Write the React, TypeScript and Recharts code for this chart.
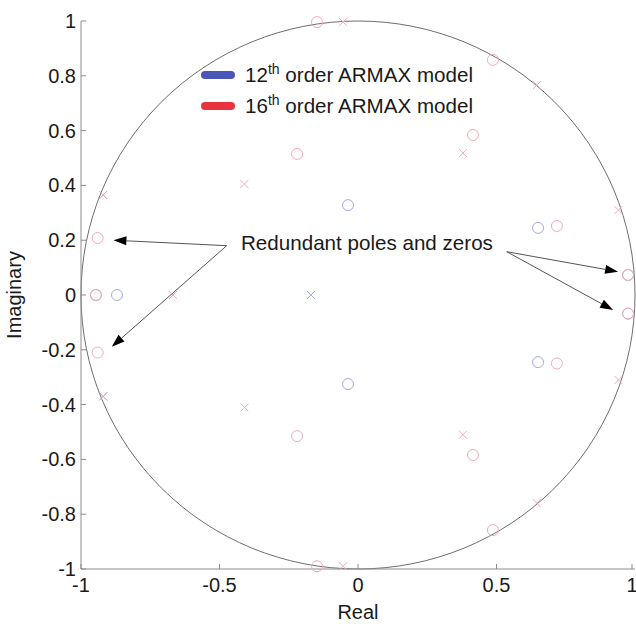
import React from "react";
import {
  ReferenceArea,
  ReferenceLine,
  Scatter,
  ScatterChart,
  XAxis,
  YAxis,
} from "recharts";

type Pt = { re: number; im: number };

const xTicks = [-1, -0.5, 0, 0.5, 1];
const yTicks = [-1, -0.8, -0.6, -0.4, -0.2, 0, 0.2, 0.4, 0.6, 0.8, 1];

// 12th order ARMAX model
const zeros12: Pt[] = [
  { re: -0.036, im: 0.328 },
  { re: -0.036, im: -0.325 },
  { re: 0.65, im: 0.245 },
  { re: 0.65, im: -0.245 },
  { re: 0.975, im: 0.073 },
  { re: 0.975, im: -0.068 },
  { re: -0.87, im: 0 },
  { re: -0.946, im: 0 },
];
const poles12: Pt[] = [
  { re: -0.17, im: 0 },
  { re: -0.92, im: 0.365 },
  { re: -0.92, im: -0.37 },
];

// 16th order ARMAX model
const zeros16: Pt[] = [
  { re: -0.148, im: 0.996 },
  { re: -0.148, im: -0.99 },
  { re: 0.487, im: 0.858 },
  { re: 0.487, im: -0.858 },
  { re: 0.415, im: 0.584 },
  { re: 0.415, im: -0.584 },
  { re: -0.22, im: 0.515 },
  { re: -0.22, im: -0.515 },
  { re: -0.94, im: 0.208 },
  { re: -0.94, im: -0.21 },
  { re: 0.718, im: 0.252 },
  { re: 0.718, im: -0.25 },
  { re: 0.975, im: 0.073 },
  { re: 0.975, im: -0.068 },
  { re: -0.946, im: 0 },
];
const poles16: Pt[] = [
  { re: -0.054, im: 0.996 },
  { re: -0.054, im: -0.99 },
  { re: 0.646, im: 0.766 },
  { re: 0.646, im: -0.76 },
  { re: 0.379, im: 0.518 },
  { re: 0.379, im: -0.51 },
  { re: -0.41, im: 0.405 },
  { re: -0.41, im: -0.41 },
  { re: -0.668, im: 0 },
  { re: -0.92, im: 0.365 },
  { re: -0.92, im: -0.37 },
  { re: 0.94, im: 0.31 },
  { re: 0.94, im: -0.31 },
];

// annotation arrows, data coordinates
const leftFrom: Pt = { re: -0.474, im: 0.18 };
const rightFrom: Pt = { re: 0.537, im: 0.158 };
const arrowTips: { from: Pt; to: Pt }[] = [
  { from: leftFrom, to: { re: -0.883, im: 0.2 } },
  { from: leftFrom, to: { re: -0.889, im: -0.189 } },
  { from: rightFrom, to: { re: 0.939, im: 0.085 } },
  { from: rightFrom, to: { re: 0.921, im: -0.055 } },
];

const FONT = "Arial, 'Liberation Sans', Helvetica, sans-serif";
const BOX = "#8c8c8c";
const BLUE_MARK = "#a3a9e0";
const RED_MARK = "#f0abba";

const fmt = (v: number) => String(v);

const BottomTick = (props: any) => {
  const { x, y, payload } = props;
  return (
    <g>
      <line x1={x} x2={x} y1={y} y2={y - 5} stroke={BOX} />
      <text x={x} y={y + 23} textAnchor="middle" fontSize={20} fill="#1a1a1a" fontFamily={FONT}>
        {fmt(payload.value)}
      </text>
    </g>
  );
};

const TopTick = (props: any) => {
  const { x, y } = props;
  return <line x1={x} x2={x} y1={y} y2={y + 5} stroke={BOX} />;
};

const LeftTick = (props: any) => {
  const { x, y, payload } = props;
  return (
    <g>
      <line x1={x} x2={x + 5} y1={y} y2={y} stroke={BOX} />
      <text x={x - 5} y={y + 7} textAnchor="end" fontSize={20} fill="#1a1a1a" fontFamily={FONT}>
        {fmt(payload.value)}
      </text>
    </g>
  );
};

const RightTick = (props: any) => {
  const { x, y } = props;
  return <line x1={x} x2={x - 5} y1={y} y2={y} stroke={BOX} />;
};

const circleShape = (color: string) => (props: any) =>
  <circle cx={props.cx} cy={props.cy} r={5.5} fill="none" stroke={color} strokeWidth={1} />;

const crossShape = (color: string) => (props: any) => {
  const { cx, cy } = props;
  const s = 4;
  return (
    <g stroke={color} strokeWidth={1}>
      <line x1={cx - s} y1={cy - s} x2={cx + s} y2={cy + s} />
      <line x1={cx - s} y1={cy + s} x2={cx + s} y2={cy - s} />
    </g>
  );
};

const UnitCircle = (props: any) => {
  const { x, y, width, height } = props;
  return (
    <ellipse
      cx={x + width / 2}
      cy={y + height / 2}
      rx={width / 2}
      ry={height / 2}
      fill="none"
      stroke="#6e6e6e"
      strokeWidth={1}
    />
  );
};

const ArrowShape = (props: any) => {
  const { x1, y1, x2, y2 } = props;
  const ang = Math.atan2(y2 - y1, x2 - x1);
  const len = 13;
  const half = 4.5;
  const bx = x2 - len * Math.cos(ang);
  const by = y2 - len * Math.sin(ang);
  const px = -Math.sin(ang) * half;
  const py = Math.cos(ang) * half;
  return (
    <g>
      <line x1={x1} y1={y1} x2={bx} y2={by} stroke="#555" strokeWidth={1} />
      <polygon
        points={`${x2},${y2} ${bx + px},${by + py} ${bx - px},${by - py}`}
        fill="#000"
      />
    </g>
  );
};

const LegendRow = ({ top, color, order }: { top: number; color: string; order: string }) => (
  <div style={{ position: "absolute", left: 0, top, height: 24 }}>
    <div
      style={{
        position: "absolute",
        left: 201,
        top: 8,
        width: 34,
        height: 8,
        borderRadius: 4,
        background: color,
      }}
    />
    <div
      style={{
        position: "absolute",
        left: 245,
        top: 0,
        whiteSpace: "nowrap",
        fontSize: 20.6,
        lineHeight: "24px",
        color: "#1a1a1a",
        fontFamily: FONT,
      }}
    >
      {order}
      <span style={{ fontSize: 14, position: "relative", top: -8 }}>th</span> order ARMAX model
    </div>
  </div>
);

export default function App() {
  return (
    <div
      style={{
        position: "absolute",
        left: 0,
        top: 0,
        width: 636,
        height: 624,
        background: "#fff",
      }}
    >
      <ScatterChart
        width={636}
        height={624}
        margin={{ top: 21, right: 1, bottom: 0, left: 0 }}
      >
        <XAxis
          xAxisId="b"
          dataKey="re"
          type="number"
          domain={[-1, 1]}
          ticks={xTicks}
          orientation="bottom"
          height={55}
          stroke={BOX}
          tickSize={0}
          tickMargin={0}
          tickLine={false}
          tick={BottomTick}
          label={{
            value: "Real",
            position: "insideBottom",
            offset: 5,
            fontSize: 20,
            fill: "#1a1a1a",
            fontFamily: FONT,
          }}
        />
        <XAxis
          xAxisId="t"
          dataKey="re"
          type="number"
          domain={[-1, 1]}
          ticks={xTicks}
          orientation="top"
          height={0}
          stroke={BOX}
          tickSize={0}
          tickMargin={0}
          tickLine={false}
          tick={TopTick}
        />
        <YAxis
          yAxisId="l"
          dataKey="im"
          type="number"
          domain={[-1, 1]}
          ticks={yTicks}
          orientation="left"
          width={81}
          stroke={BOX}
          tickSize={0}
          tickMargin={0}
          tickLine={false}
          tick={LeftTick}
          label={{
            value: "Imaginary",
            angle: -90,
            position: "insideLeft",
            offset: 14,
            fontSize: 20,
            fill: "#1a1a1a",
            fontFamily: FONT,
            style: { textAnchor: "middle" },
          }}
        />
        <YAxis
          yAxisId="r"
          dataKey="im"
          type="number"
          domain={[-1, 1]}
          ticks={yTicks}
          orientation="right"
          width={0}
          stroke={BOX}
          tickSize={0}
          tickMargin={0}
          tickLine={false}
          tick={RightTick}
        />
        <ReferenceArea
          xAxisId="b"
          yAxisId="l"
          x1={-1}
          x2={1}
          y1={-1}
          y2={1}
          shape={UnitCircle}
        />
        {arrowTips.map((a, i) => (
          <ReferenceLine
            key={i}
            xAxisId="b"
            yAxisId="l"
            segment={[
              { x: a.from.re, y: a.from.im },
              { x: a.to.re, y: a.to.im },
            ]}
            shape={ArrowShape}
          />
        ))}
        <Scatter
          xAxisId="b"
          yAxisId="l"
          data={zeros12}
          shape={circleShape(BLUE_MARK)}
          isAnimationActive={false}
        />
        <Scatter
          xAxisId="b"
          yAxisId="l"
          data={poles12}
          shape={crossShape(BLUE_MARK)}
          isAnimationActive={false}
        />
        <Scatter
          xAxisId="b"
          yAxisId="l"
          data={zeros16}
          shape={circleShape(RED_MARK)}
          isAnimationActive={false}
        />
        <Scatter
          xAxisId="b"
          yAxisId="l"
          data={poles16}
          shape={crossShape(RED_MARK)}
          isAnimationActive={false}
        />
      </ScatterChart>
      <LegendRow top={63} color="#4a56b8" order="12" />
      <LegendRow top={94} color="#e8343f" order="16" />
      <div
        style={{
          position: "absolute",
          left: 241,
          top: 231,
          whiteSpace: "nowrap",
          fontSize: 20.6,
          lineHeight: "24px",
          color: "#1a1a1a",
          fontFamily: FONT,
        }}
      >
        Redundant poles and zeros
      </div>
    </div>
  );
}
